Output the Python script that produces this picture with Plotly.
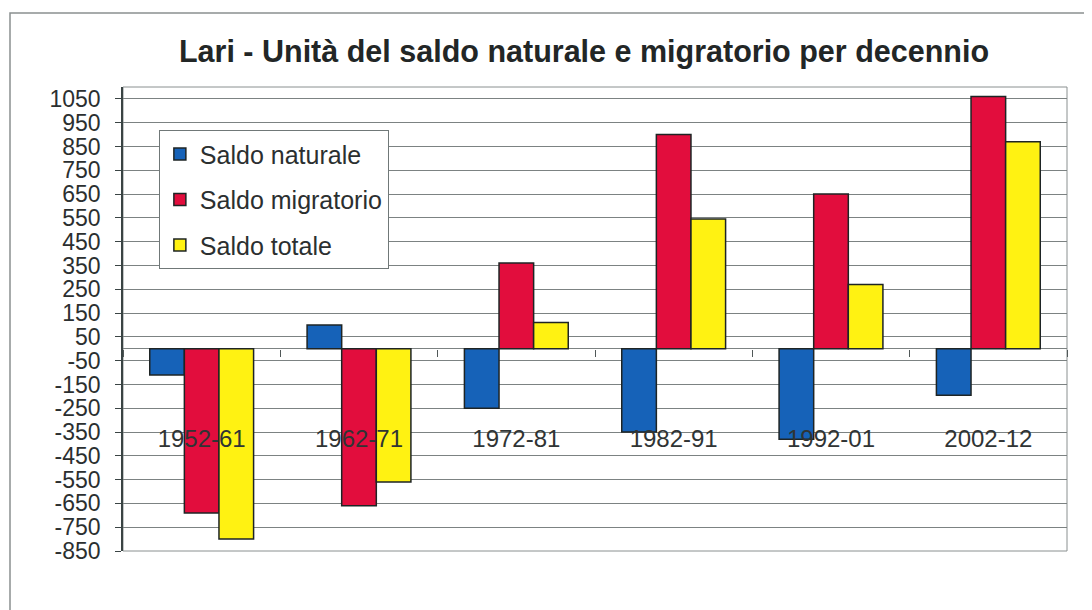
import plotly.graph_objects as go

# decades and balances (units)
decenni = ["1952-61", "1962-71", "1972-81", "1982-91", "1992-01", "2002-12"]
saldo_naturale = [-110, 100, -250, -350, -380, -195]
saldo_migratorio = [-690, -660, 360, 900, 650, 1060]
saldo_totale = [-800, -560, 110, 545, 270, 870]

y_ticks = list(range(-850, 1051, 100))
y_labels = [str(v) for v in y_ticks]  # plain hyphen minus, as in the original
y_range = [-850, 1100]

series = [
    ("Saldo naturale", saldo_naturale, "#1662b8"),
    ("Saldo migratorio", saldo_migratorio, "#e20d3d"),
    ("Saldo totale", saldo_totale, "#fff212"),
]

FONT = "Arial, Liberation Sans, sans-serif"
OFF = 8  # the page body has an 8px margin, so shift everything back

fig = go.Figure()

for i, (name, vals, col) in enumerate(series):
    fig.add_trace(go.Bar(
        x=decenni,
        y=vals,
        name=name,
        legendgroup=f"g{i}",
        marker=dict(color=col, line=dict(color="#1e2424", width=1.5)),
    ))

# position of the category axis at y = 0
zero_pos = (0 - y_range[0]) / (y_range[1] - y_range[0])

fig.update_layout(
    width=1092,
    height=610,
    margin=dict(l=123 - OFF, r=25 + OFF, t=87 - OFF, b=59 + OFF),
    paper_bgcolor="white",
    plot_bgcolor="white",
    barmode="group",
    bargap=0.34,
    bargroupgap=0,
    font=dict(family=FONT, color="#2b2f30"),
    title=dict(
        text="<b>Lari - Unità del saldo naturale e migratorio per decennio</b>",
        font=dict(size=30.5, color="#222626", family=FONT),
        x=(584 - OFF) / 1092, xref="container", xanchor="center",
        y=1 - (51 - OFF) / 610, yref="container", yanchor="middle",
    ),
    legend=dict(
        x=0.038, y=0.907, xanchor="left", yanchor="top",
        bgcolor="white", bordercolor="#707878", borderwidth=1,
        font=dict(size=25, color="#2b2f30", family=FONT),
        traceorder="grouped", tracegroupgap=10,
    ),
    showlegend=True,
)

fig.update_xaxes(
    type="category",
    anchor="free",
    position=zero_pos,
    automargin=False,
    showline=False,
    showgrid=False,
    ticks="outside",
    tickson="boundaries",
    ticklen=7,
    tickcolor="#505858",
    tickfont=dict(size=24, color="#303434"),
    ticklabelstandoff=73,
)

fig.update_yaxes(
    range=y_range,
    tickvals=y_ticks,
    ticktext=y_labels,
    automargin=False,
    ticks="outside",
    ticklen=6,
    tickcolor="#3a4444",
    tickfont=dict(size=23, color="#2b2f30"),
    ticklabelstandoff=10,
    showline=True,
    linecolor="#3a4444",
    linewidth=1.5,
    showgrid=True,
    gridcolor="#7c8282",
    gridwidth=1,
    zeroline=True,
    zerolinecolor="#7c8282",
    zerolinewidth=1,
)

# plot area border (top / right / bottom)
fig.add_shape(type="rect", xref="paper", yref="paper", x0=0, x1=1, y0=0, y1=1,
              line=dict(color="#8a9090", width=1), layer="below")

# outer chart frame (runs past the bottom / right of the picture)
fig.add_shape(type="rect", xref="paper", yref="paper",
              x0=-0.1197, x1=1.04, y0=-0.16, y1=1.1595,
              line=dict(color="#8a9090", width=1.5), layer="below")

fig.write_html("out.html")
